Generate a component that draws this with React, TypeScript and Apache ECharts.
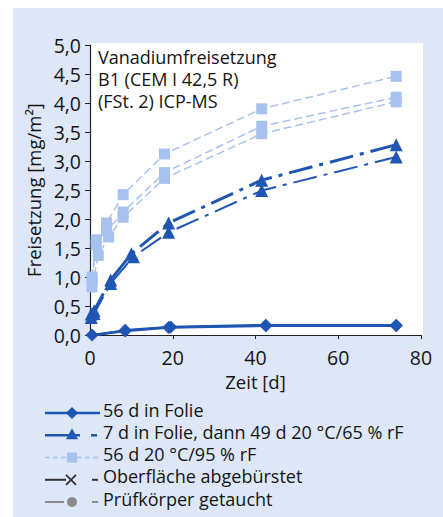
import React, { useEffect, useRef } from "react";
import * as echarts from "echarts";

const yTicks = [0, 0.5, 1, 1.5, 2, 2.5, 3, 3.5, 4, 4.5, 5];
const xTicks = [0, 20, 40, 60, 80];

// 56 d in Folie (two overlapping specimens)
const folieA: [number, number][] = [[0.5, 0.0], [8.5, 0.07], [19, 0.13], [42.5, 0.16], [74, 0.16]];
const folieB: [number, number][] = [[0.5, -0.01], [8.5, 0.08], [19.5, 0.14], [42.5, 0.17], [74, 0.17]];
// 7 d in Folie, dann 49 d 20 °C/65 % rF
const klimaA: [number, number][] = [[0.3, 0.36], [1, 0.42], [5, 0.95], [10, 1.4], [19, 1.93], [41.5, 2.67], [74, 3.28]];
const klimaB: [number, number][] = [[0.3, 0.3], [1, 0.37], [5, 0.89], [10.5, 1.35], [19, 1.77], [41.5, 2.49], [74, 3.07]];
// 56 d 20 °C/95 % rF
const feuchtA: [number, number][] = [[0.5, 1.0], [1.5, 1.64], [4, 1.93], [8, 2.42], [18, 3.12], [41.5, 3.9], [74, 4.46]];
const feuchtB: [number, number][] = [[0.5, 0.95], [1.5, 1.55], [4, 1.79], [8, 2.12], [18, 2.8], [41.5, 3.6], [74, 4.1]];
const feuchtC: [number, number][] = [[0.5, 0.83], [2, 1.37], [4.5, 1.69], [8, 2.03], [18, 2.7], [41.5, 3.47], [74, 4.02]];

const titleLines = ["Vanadiumfreisetzung", "B1 (CEM I 42,5 R)", "(FSt. 2) ICP-MS"];
const legendLabels = [
  "56 d in Folie",
  "7 d in Folie, dann 49 d 20 °C/65 % rF",
  "56 d 20 °C/95 % rF",
  "Oberfläche abgebürstet",
  "Prüfkörper getaucht",
];

const DARK = "#1f55b3";
const LIGHT = "#a8c2ef";
const FONT = "Open Sans";
const INK = "#151515";

export default function App() {
  const ref = useRef<HTMLDivElement>(null);
  useEffect(() => {
    if (!ref.current) return;
    const chart = echarts.init(ref.current, null, { renderer: "svg" });
    const gl = { left: 90, top: 45, width: 331, height: 290 };
    const ly = [413, 435.3, 457.6, 479.8, 502];
    const lx = 103;
    const graphic: any[] = [
      { type: "rect", z: -10, silent: true, shape: { x: 13, y: 8, width: 440, height: 520 }, style: { fill: "#dde7f7" } },
      { type: "rect", z: -9, silent: true, shape: { x: 90, y: 43, width: 333, height: 292 }, style: { fill: "#ffffff" } },
      // legend row 1
      { type: "line", shape: { x1: 45, y1: ly[0], x2: 100, y2: ly[0] }, style: { stroke: DARK, lineWidth: 2.5 } },
      { type: "polygon", shape: { points: [[72, ly[0] - 6], [78, ly[0]], [72, ly[0] + 6], [66, ly[0]]] }, style: { fill: DARK } },
      // row 2
      { type: "line", shape: { x1: 45, y1: ly[1], x2: 80, y2: ly[1] }, style: { stroke: DARK, lineWidth: 2.5 } },
      { type: "line", shape: { x1: 91, y1: ly[1], x2: 97, y2: ly[1] }, style: { stroke: DARK, lineWidth: 2.5 } },
      { type: "polygon", shape: { points: [[72, ly[1] - 7], [78, ly[1] + 4], [66, ly[1] + 4]] }, style: { fill: DARK } },
      // row 3
      { type: "line", shape: { x1: 45, y1: ly[2], x2: 100, y2: ly[2] }, style: { stroke: LIGHT, lineWidth: 1.5, lineDash: [5, 3] } },
      { type: "rect", shape: { x: 67, y: ly[2] - 5, width: 10, height: 10 }, style: { fill: LIGHT } },
      // row 4
      { type: "line", shape: { x1: 45, y1: ly[3], x2: 66, y2: ly[3] }, style: { stroke: "#333", lineWidth: 2 } },
      { type: "line", shape: { x1: 66, y1: ly[3] - 5, x2: 76, y2: ly[3] + 5 }, style: { stroke: "#333", lineWidth: 1.8 } },
      { type: "line", shape: { x1: 66, y1: ly[3] + 5, x2: 76, y2: ly[3] - 5 }, style: { stroke: "#333", lineWidth: 1.8 } },
      { type: "line", shape: { x1: 92, y1: ly[3], x2: 98, y2: ly[3] }, style: { stroke: "#333", lineWidth: 2 } },
      // row 5
      { type: "line", shape: { x1: 45, y1: ly[4], x2: 64, y2: ly[4] }, style: { stroke: "#8c8c8c", lineWidth: 2 } },
      { type: "circle", shape: { cx: 72, cy: ly[4], r: 5 }, style: { fill: "#8c8c8c" } },
      { type: "line", shape: { x1: 92, y1: ly[4], x2: 98, y2: ly[4] }, style: { stroke: "#8c8c8c", lineWidth: 2 } },
    ];
    titleLines.forEach((t, i) => {
      graphic.push({
        type: "text", left: 98, top: 48 + i * 21.8, z: 5,
        style: { text: t, font: `18px "${FONT}"`, fill: INK },
      });
    });
    legendLabels.forEach((t, i) => {
      graphic.push({
        type: "text", left: lx, top: ly[i] - 12.5,
        style: { text: t, font: `18px "${FONT}"`, fill: INK },
      });
    });

    const squareSeries = (d: [number, number][]) => ({
      type: "line", data: d, symbol: "rect", symbolSize: 11,
      itemStyle: { color: LIGHT }, lineStyle: { color: LIGHT, width: 1.5, type: [8, 4] }, z: 2,
    });
    const triSeries = (d: [number, number][], w: number) => ({
      type: "line", data: d, symbol: "triangle", symbolSize: 13,
      itemStyle: { color: DARK }, lineStyle: { color: DARK, width: w, type: [24, 7, 4, 7] }, z: 3,
    });
    const diaSeries = (d: [number, number][]) => ({
      type: "line", data: d, symbol: "diamond", symbolSize: 13,
      itemStyle: { color: DARK }, lineStyle: { color: DARK, width: 2.5 }, z: 4,
    });

    chart.setOption({
      animation: false,
      textStyle: { fontFamily: FONT },
      grid: { ...gl, containLabel: false },
      xAxis: {
        type: "value", min: 0, max: 80, interval: 20,
        name: "Zeit [d]", nameLocation: "middle", nameGap: 30,
        nameTextStyle: { fontSize: 18.5, color: INK, fontFamily: FONT },
        axisLine: { lineStyle: { color: "#222", width: 1.2 } },
        axisTick: { show: true, length: 4, lineStyle: { color: "#222" } },
        axisLabel: { fontSize: 19.5, color: INK, margin: 12, fontFamily: FONT },
        splitLine: { show: false },
      },
      yAxis: {
        type: "value", min: 0, max: 5, interval: 0.5,
        name: "Freisetzung [mg/m²]", nameLocation: "middle", nameGap: 44,
        nameTextStyle: { fontSize: 18.5, color: INK, fontFamily: FONT },
        axisLine: { show: true, lineStyle: { color: "#222", width: 1.2 } },
        axisTick: { show: true, length: 5, lineStyle: { color: "#222" } },
        axisLabel: {
          fontSize: 19.5, color: INK, margin: 9, fontFamily: FONT,
          formatter: (v: number) => v.toFixed(1).replace(".", ","),
        },
        splitLine: { show: false },
      },
      graphic,
      series: [
        squareSeries(feuchtA), squareSeries(feuchtB), squareSeries(feuchtC),
        triSeries(klimaA, 3), triSeries(klimaB, 2),
        diaSeries(folieA), diaSeries(folieB),
      ],
    });
    return () => chart.dispose();
  }, []);
  return (
    <div style={{ position: "fixed", left: 0, top: 0, width: 443, height: 517, background: "#fff" }}>
      <div ref={ref} style={{ width: 443, height: 517 }} />
    </div>
  );
}
